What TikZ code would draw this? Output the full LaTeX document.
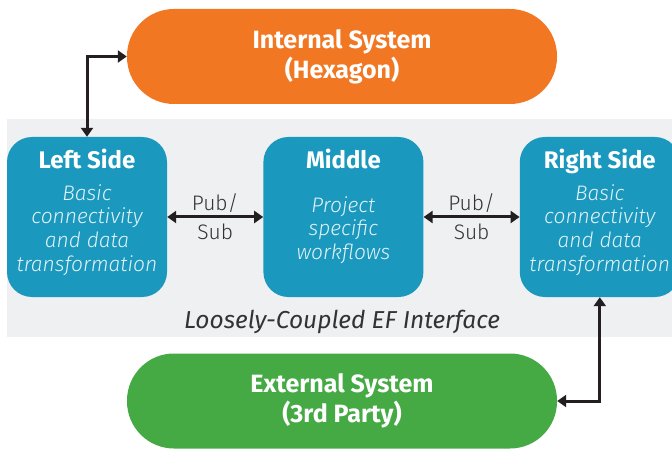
\documentclass[tikz,border=0pt]{standalone}
\usepackage{fontspec}
\setmainfont{Fira Sans}
\newfontfamily\lightfont{Fira Sans Light}
\usetikzlibrary{arrows.meta,positioning,calc}
\definecolor{hexorange}{HTML}{F27722}
\definecolor{partygreen}{HTML}{46AA44}
\definecolor{sideblue}{HTML}{1A98BD}
\definecolor{bandgray}{HTML}{EFF0F2}
\definecolor{linkgray}{HTML}{231F20}
\definecolor{paleblue}{HTML}{E2F2F8}
\definecolor{labelgray}{HTML}{333333}

\tikzset{
  sidebox/.style={fill=sideblue, rounded corners=25pt, minimum width=160pt, minimum height=160pt, inner sep=0pt},
  sysbox/.style={rounded corners=47pt, minimum width=430pt, minimum height=95pt, inner sep=0pt,
    text=white, align=center, font=\bfseries\fontsize{25}{30}\selectfont},
  boxtitle/.style={anchor=base, text=white, inner sep=0pt, font=\bfseries\fontsize{24}{28}\selectfont},
  boxtext/.style={text=paleblue, align=center, inner sep=0pt, font=\lightfont\itshape\fontsize{21}{23.7}\selectfont},
  pubsub/.style={text=labelgray, align=center, inner sep=0pt, font=\lightfont\fontsize{21}{29}\selectfont},
  link/.style={line width=3pt, draw=linkgray, {Triangle[width=12pt,length=9pt]}-{Triangle[width=12pt,length=9pt]}},
}

\begin{document}
\begin{tikzpicture}[x=1pt,y=-1pt]
    \useasboundingbox (0,0) rectangle (672,449);
    \fill[bandgray] (7,119) rectangle (672,337);

    \node[sysbox, fill=hexorange] (internal) at (342,56.5) {Internal System\\(Hexagon)};
    \node[sysbox, fill=partygreen] (external) at (342,401) {External System\\(3rd Party)};

    \node[sidebox] (left) at (87,217) {};
    \node[sidebox, right=96pt of left] (middle) {};
    \node[sidebox, right=96pt of middle] (right) {};

    \node[boxtitle] (lefttitle) at ($(left.north)+(0,31.5)$) {Left Side};
    \node[boxtitle] (middletitle) at ($(middle.north)+(0,31.5)$) {Middle};
    \node[boxtitle] (righttitle) at ($(right.north)+(0,31.5)$) {Right Side};

    \node[boxtext] (lefttext) at ($(left)+(0,13)$) {Basic\\connectivity\\and data\\transformation};
    \node[boxtext] (middletext) at ($(middle)+(0,13)$) {Project\\specific\\workflows};
    \node[boxtext] (righttext) at ($(right)+(0,13)$) {Basic\\connectivity\\and data\\transformation};

    \node[text=labelgray, font=\itshape\fontsize{24.5}{28}\selectfont, anchor=base] (band) at (342,328) {Loosely-Coupled EF Interface};

    \draw[link] (left.east) -- node[pubsub] (pubsubA) {Pub/\\Sub} (middle.west);
    \draw[link] (middle.east) -- node[pubsub] (pubsubB) {Pub/\\Sub} (right.west);
    \draw[link] (internal.west) -| (left.north);
    \draw[link] (right.south) |- (external.east);
\end{tikzpicture}
\end{document}
